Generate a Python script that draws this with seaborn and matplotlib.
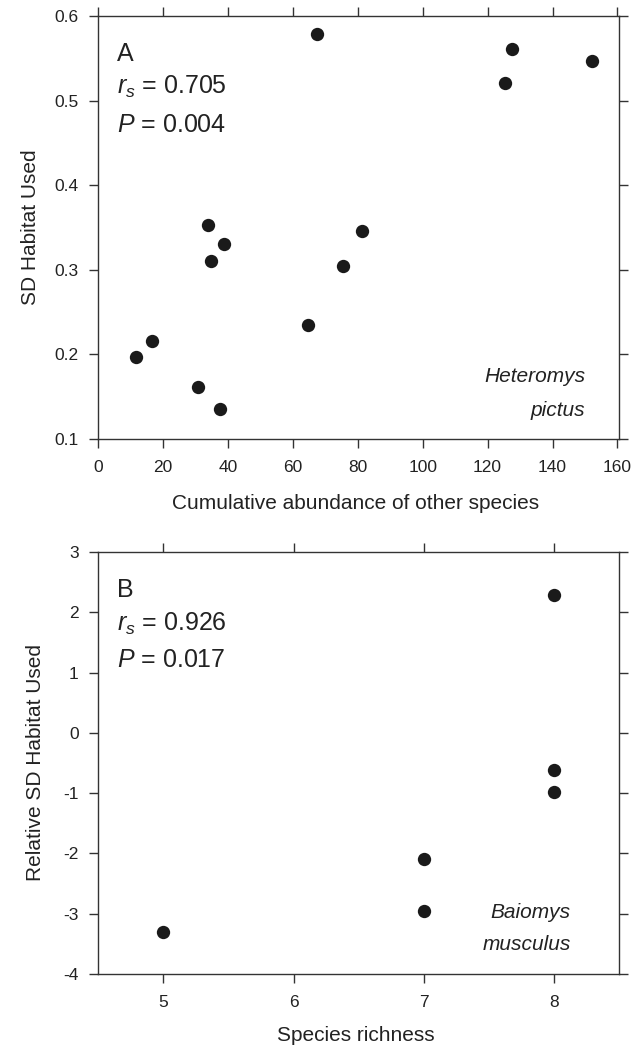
import matplotlib
matplotlib.use("Agg")
import matplotlib.pyplot as plt
import seaborn as sns
import pandas as pd

# ---- data ----
abundance_other = [11.7, 16.7, 30.7, 37.6, 33.8, 34.6, 38.6, 64.6, 67.4, 75.5, 81.4, 125.5, 127.4, 152.3]
sd_habitat_used = [0.197, 0.216, 0.162, 0.136, 0.353, 0.311, 0.330, 0.235, 0.579, 0.304, 0.346, 0.521, 0.561, 0.547]

species_richness = [5, 7, 7, 8, 8, 8]
relative_sd_habitat = [-3.30, -2.09, -2.95, 2.29, -0.61, -0.98]

xticks_a = [0, 20, 40, 60, 80, 100, 120, 140, 160]
yticks_a = [0.1, 0.2, 0.3, 0.4, 0.5, 0.6]
xticks_b = [5, 6, 7, 8]
yticks_b = [-4, -3, -2, -1, 0, 1, 2, 3]

panel_a_text = ["A", "$r_s$ = 0.705", "$P$ = 0.004"]
panel_b_text = ["B", "$r_s$ = 0.926", "$P$ = 0.017"]
species_a = ["Heteromys", "pictus"]
species_b = ["Baiomys", "musculus"]

df_a = pd.DataFrame({"x": abundance_other, "y": sd_habitat_used})
df_b = pd.DataFrame({"x": species_richness, "y": relative_sd_habitat})

sns.set_theme(style="ticks")
plt.rcParams["font.family"] = ["Liberation Sans", "DejaVu Sans"]
plt.rcParams["mathtext.fontset"] = "custom"
plt.rcParams["mathtext.rm"] = "Liberation Sans"
plt.rcParams["mathtext.it"] = "Liberation Sans:italic"

INK = "#222222"
SPINE = "#333333"
DOT = "#1a1a1a"

fig = plt.figure(figsize=(6.44, 10.48), dpi=100)
ax_a = fig.add_axes([0.1526, 0.5811, 0.8086, 0.4036])
ax_b = fig.add_axes([0.1526, 0.0706, 0.8086, 0.4027])

sns.scatterplot(data=df_a, x="x", y="y", ax=ax_a, s=92, color=DOT, linewidth=0, legend=False)
sns.scatterplot(data=df_b, x="x", y="y", ax=ax_b, s=92, color=DOT, linewidth=0, legend=False)

def style(ax, xlim, ylim, xticks, yticks, xlabel, ylabel, xfmt, yfmt, ylab_x, xlab_y):
    ax.set_xlim(*xlim)
    ax.set_ylim(*ylim)
    ax.set_xticks(xticks)
    ax.set_yticks(yticks)
    ax.set_xticklabels([xfmt(v) for v in xticks])
    ax.set_yticklabels([yfmt(v) for v in yticks])
    for sp in ax.spines.values():
        sp.set_visible(True)
        sp.set_color(SPINE)
        sp.set_linewidth(1.0)
    ax.tick_params(axis="both", which="major", direction="out", length=6.5, width=1.0,
                   color=SPINE, labelcolor=INK, labelsize=12.5,
                   top=True, right=True, labeltop=False, labelright=False)
    ax.tick_params(axis="x", pad=8.5)
    ax.tick_params(axis="y", pad=7.5)
    ax.set_xlabel(xlabel, fontsize=15, color=INK)
    ax.set_ylabel(ylabel, fontsize=15, color=INK)
    ax.yaxis.set_label_coords(ylab_x, 0.5)
    ax.xaxis.set_label_coords(0.495, xlab_y)
    ax.set_facecolor("white")

style(ax_a, (0, 160.5), (0.1, 0.6), xticks_a, yticks_a,
      "Cumulative abundance of other species", "SD Habitat Used",
      lambda v: f"{v:d}", lambda v: f"{v:.1f}", -0.112, -0.129)
style(ax_b, (4.5, 8.5), (-4, 3), xticks_b, yticks_b,
      "Species richness", "Relative SD Habitat Used",
      lambda v: f"{v:d}", lambda v: f"{v:d}", -0.102, -0.124)

for ax, lines, base in ((ax_a, panel_a_text, (0.894, 0.8156, 0.7265)),
                        (ax_b, panel_b_text, (0.894, 0.8135, 0.7268))):
    for t, yb in zip(lines, base):
        ax.text(0.0353, yb, t, transform=ax.transAxes, fontsize=18, color=INK,
                ha="left", va="baseline")

for ax, names, xr, base in ((ax_a, species_a, 0.9347, (0.1355, 0.054)),
                            (ax_b, species_b, 0.907, (0.132, 0.057))):
    for t, yb in zip(names, base):
        ax.text(xr, yb, t, transform=ax.transAxes, fontsize=15, color=INK,
                style="italic", ha="right", va="baseline")

fig.savefig("out.png", dpi=100, facecolor="white")
